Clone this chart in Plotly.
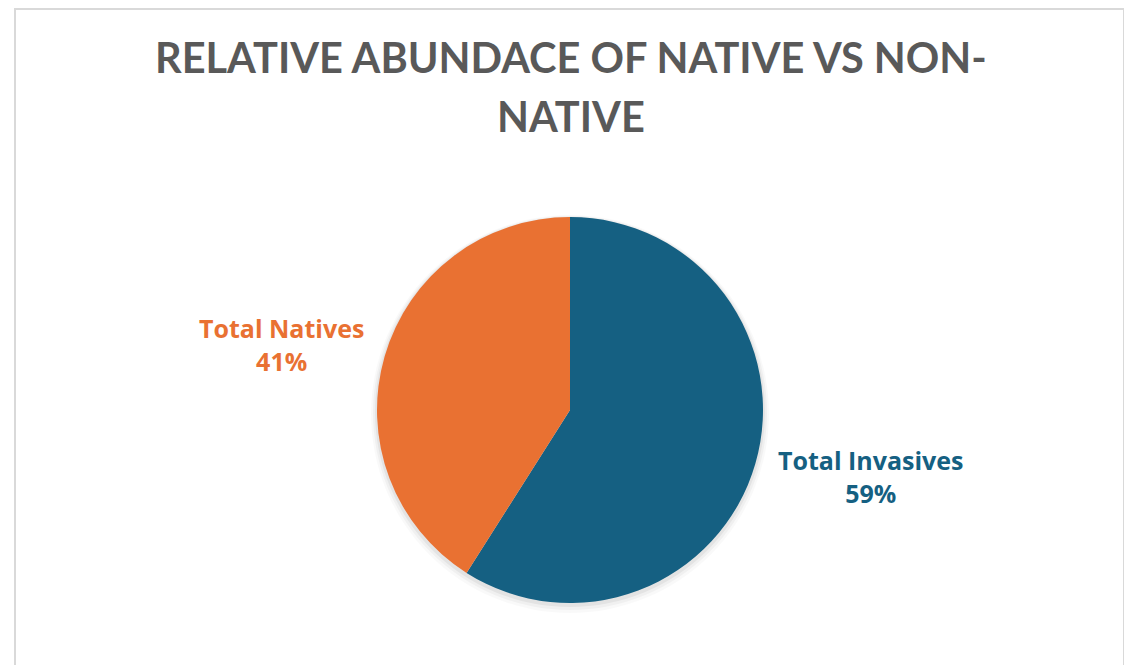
import plotly.graph_objects as go

categories = ["Total Invasives", "Total Natives"]
values = [59, 41]
colors = ["#156082", "#E97132"]
title_lines = ["RELATIVE ABUNDACE OF NATIVE VS NON-", "NATIVE"]

W, H = 1132, 665
OFF = 8  # page body margin offset
cx, cy, r = 570 - OFF, 410 - OFF, 193

fig = go.Figure()
fig.add_trace(go.Pie(
    labels=categories,
    values=values,
    marker=dict(colors=colors, line=dict(width=0)),
    sort=False,
    direction="clockwise",
    rotation=0,
    textinfo="none",
    hoverinfo="label+percent",
    showlegend=False,
    domain=dict(x=[(cx - r) / W, (cx + r) / W], y=[1 - (cy + r) / H, 1 - (cy - r) / H]),
))

# soft drop shadow under the pie
for grow, dy, alpha in [(6, 4, 0.025), (4, 3, 0.035), (2, 2, 0.05)]:
    rr = r + grow
    fig.add_shape(type="circle", xref="paper", yref="paper", layer="below",
                  x0=(cx - rr) / W, x1=(cx + rr) / W,
                  y0=1 - (cy + dy + rr) / H, y1=1 - (cy + dy - rr) / H,
                  line=dict(width=0), fillcolor=f"rgba(0,0,0,{alpha})")

total = sum(values)
label_pos = {"Total Invasives": (871 - OFF, 476 - OFF), "Total Natives": (281 - OFF, 344 - OFF)}
for cat, val, col in zip(categories, values, colors):
    x, y = label_pos[cat]
    fig.add_annotation(
        x=x / W, y=1 - y / H, xref="paper", yref="paper",
        text=f"{cat}<br>{round(val / total * 100)}%",
        showarrow=False, align="center",
        font=dict(family="Open Sans", size=25, color=col, weight="bold"),
        xanchor="center", yanchor="middle",
    )

for line, ty in zip(title_lines, [57, 116]):
    fig.add_annotation(
        x=(571 - OFF) / W, y=1 - (ty - OFF) / H, xref="paper", yref="paper",
        text=line, showarrow=False, align="center",
        font=dict(family="Lato", size=41.5, color="#595959", weight="bold"),
        xanchor="center", yanchor="middle",
    )

fig.add_shape(type="rect", xref="paper", yref="paper",
              x0=(15 - OFF) / W, x1=(1124 - OFF) / W, y0=-0.1, y1=1 - 1 / H,
              line=dict(color="#D9D9D9", width=2), fillcolor="rgba(0,0,0,0)")

fig.update_layout(
    width=W, height=H,
    margin=dict(l=0, r=0, t=0, b=0),
    paper_bgcolor="white", plot_bgcolor="white",
)

fig.write_html("out.html")
